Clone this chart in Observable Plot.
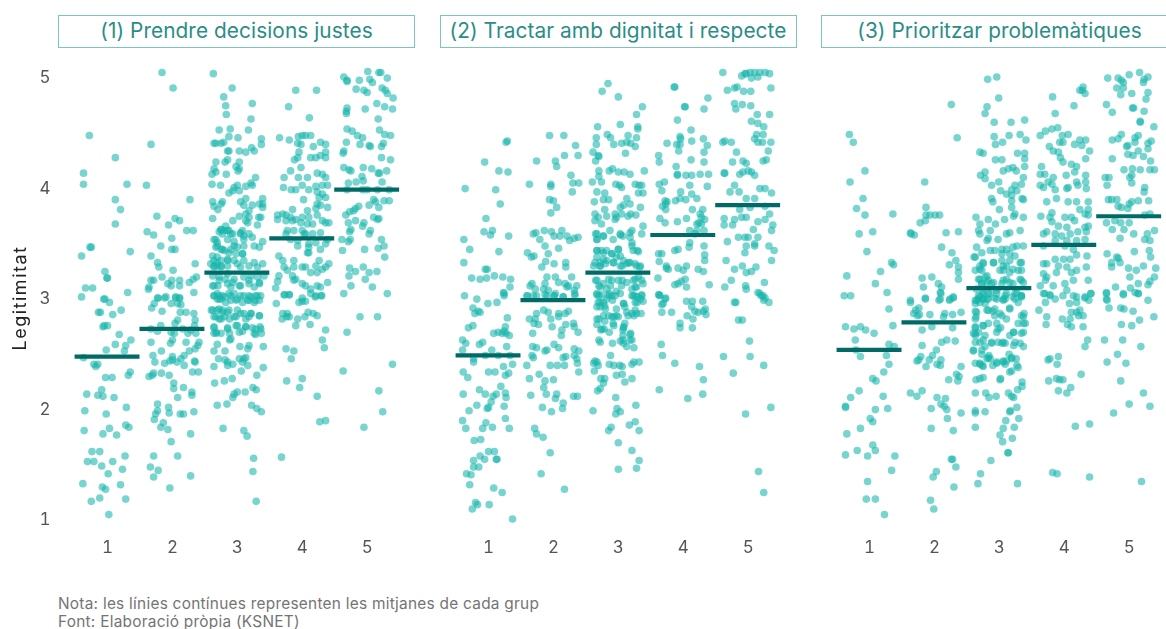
<!DOCTYPE html>
<html lang="ca">
<head>
<meta charset="utf-8">
<script src="https://cdn.jsdelivr.net/npm/d3@7"></script>
<script src="https://cdn.jsdelivr.net/npm/@observablehq/plot@0.6"></script>
<style>
html,body{margin:0;padding:0;background:#fff;overflow:hidden;width:1166px;height:629px;}
body{font-family:Inter,"Noto Sans",sans-serif;position:relative;}
#heads{position:absolute;left:58px;top:15px;display:flex;gap:24.5px;width:1120px;}
#heads div{box-sizing:border-box;flex:none;width:357px;height:33px;border:1.5px solid #7cc5bf;color:#2a8d86;font-size:20.8px;letter-spacing:.08px;line-height:30px;text-align:center;white-space:nowrap;}
#chart{position:absolute;left:0;top:48px;width:1180px;}
#chart svg{max-width:none;filter:blur(.35px);}
#chart [aria-label="y-axis label"]{font-size:18px;letter-spacing:1.5px;fill:#222;}
#note{position:absolute;left:58px;top:595px;color:#747474;font-size:15.4px;letter-spacing:.26px;line-height:18px;white-space:nowrap;}
</style>
</head>
<body>
<div id="heads"></div>
<div id="chart"></div>
<div id="note"></div>
<script>
const panelTitles = ["(1) Prendre decisions justes","(2) Tractar amb dignitat i respecte","(3) Prioritzar problemàtiques"];
const groups = [1,2,3,4,5];
const yTicks = [1,2,3,4,5];
const yLabel = "Legitimitat";
const notes = ["Nota: les línies contínues representen les mitjanes de cada grup","Font: Elaboració pròpia (KSNET)"];
const means1 = [2.47,2.72,3.23,3.54,3.98];
const means2 = [2.48,2.98,3.23,3.57,3.84];
const means3 = [2.53,2.78,3.09,3.48,3.74];

// each list: jitter offset, value, jitter offset, value ...
const p1g1 = [-.28,4.47,.12,4.27,-.37,4.13,-.37,4.03,.30,4.03,.12,3.89,.20,3.80,.12,3.67,-.27,3.46,-.25,3.46,.35,3.42,-.40,3.38,-.04,3.24,-.01,3.18,0,3.18,-.34,3.09,-.23,3.09,.31,3.05,-.40,3.01,-.06,2.99,-.04,2.99,.03,2.96,-.14,2.87,-.11,2.87,.08,2.85,.21,2.89,-.07,2.74,0,2.75,-.05,2.75,.18,2.67,.36,2.62,.28,2.57,.12,2.58,-.02,2.53,.26,2.52,-.37,2.46,-.21,2.40,-.18,2.38,-.15,2.40,.35,2.33,.32,2.30,-.03,2.28,.07,2.28,-.09,2.17,-.32,2.13,-.15,2.12,-.07,2.11,.10,2.10,-.35,1.98,.29,2.01,-.02,1.95,-.36,1.80,.28,1.85,.33,1.83,.03,1.82,-.07,1.77,.14,1.76,-.24,1.61,-.12,1.61,.27,1.57,-.31,1.52,-.21,1.52,.08,1.52,-.09,1.48,.23,1.45,.01,1.41,-.38,1.32,.20,1.31,-.08,1.29,-.03,1.27,.28,1.18,-.12,1.19,-.25,1.16,.02,1.04];
const p1g2 = [-.16,5.04,.01,4.90,-.33,4.39,-.40,4.02,.27,3.89,-.24,3.74,-.06,3.66,.04,3.72,.11,3.70,.22,3.61,.32,3.61,-.39,3.60,-.29,3.57,-.01,3.54,-.18,3.47,-.01,3.44,.04,3.44,-.33,3.38,-.23,3.32,-.21,3.28,.35,3.31,.01,3.25,.37,3.19,.32,3.17,.26,3.14,-.16,3.19,-.33,3.16,-.29,3.16,-.36,3.10,-.37,3.08,-.01,3.16,.11,3.16,-.07,3.13,-.02,3.11,.11,3.11,.33,3.05,-.10,3.01,.05,3.01,.11,3.00,-.23,3.00,-.22,3.0,-.12,3.0,-.28,2.95,-.32,2.91,-.02,2.95,.05,3.0,.11,3.0,.08,2.95,.13,2.94,-.16,2.88,.12,2.87,.21,2.87,.33,2.86,.08,2.80,.04,2.77,.35,2.80,.34,2.75,-.18,2.75,-.23,2.70,-.33,2.72,-.02,2.69,.03,2.68,.16,2.72,.24,2.68,.36,2.68,.28,2.71,-.33,2.60,0,2.62,-.03,2.59,.21,2.60,.41,2.60,.39,2.57,.35,2.54,.26,2.52,-.17,2.52,-.30,2.48,.18,2.48,0,2.47,.13,2.45,-.27,2.42,-.04,2.43,0,2.44,.07,2.42,-.12,2.41,.18,2.39,.34,2.43,.35,2.42,.31,2.33,.40,2.33,-.36,2.29,-.31,2.30,-.29,2.32,-.17,2.32,-.05,2.30,.02,2.23,.02,2.18,.17,2.19,.30,2.15,.30,2.12,.08,2.10,-.23,2.04,-.23,1.98,-.26,1.95,-.28,1.90,-.06,2.01,-.05,1.96,.12,1.95,.17,1.95,.33,1.97,-.14,1.87,-.18,1.83,-.07,1.81,.28,1.77,-.02,1.70,-.29,1.57,.08,1.57,-.34,1.47,-.22,1.44,-.29,1.38,.28,1.39,-.04,1.28];
const p1g3 = [-.37,5.03,-.08,4.90,-.21,4.82,-.18,4.74,.23,4.76,-.17,4.66,.21,4.62,-.28,4.52,-.11,4.53,.17,4.52,-.13,4.46,.01,4.45,.37,4.44,.37,4.39,-.36,4.40,-.33,4.40,-.25,4.40,-.21,4.41,-.15,4.33,-.13,4.33,.03,4.33,.13,4.32,.22,4.36,.26,4.33,-.33,4.23,-.15,4.25,-.19,4.23,.03,4.23,-.36,4.17,-.02,4.19,.01,4.15,.03,4.17,-.33,4.14,-.39,4.12,-.17,4.12,.28,4.09,-.39,4.03,-.26,4.02,0,4.02,-.05,4.0,.13,4.01,.23,4.02,.21,4.04,-.13,3.95,-.07,3.97,.03,3.97,-.38,3.87,-.23,3.87,-.36,3.83,-.30,3.80,-.25,3.85,.05,3.87,.13,3.90,.10,3.84,.18,3.79,.23,3.84,.39,3.90,.39,3.85,.34,3.85,.39,3.82,-.38,3.72,.03,3.74,.13,3.76,.18,3.73,-.07,3.70,.13,3.70,.16,3.68,.33,3.73,.36,3.73,.31,3.66,-.25,3.62,-.20,3.61,-.15,3.61,-.10,3.58,-.28,3.60,.08,3.61,.05,3.58,.18,3.58,-.36,3.53,-.31,3.50,-.15,3.53,-.05,3.51,.10,3.53,.23,3.55,.39,3.51,.26,3.47,.34,3.46,-.33,3.46,-.25,3.44,-.20,3.43,-.10,3.44,0,3.46,.10,3.47,-.02,3.40,.08,3.40,-.31,3.37,-.36,3.34,-.25,3.34,-.15,3.35,-.05,3.34,.10,3.34,.26,3.32,.39,3.31,-.41,3.31,-.31,3.29,-.15,3.29,.05,3.28,.18,3.29,.31,3.28,-.36,3.28,-.25,3.28,-.38,3.2,-.28,3.19,-.15,3.22,-.05,3.17,.10,3.19,.21,3.2,.31,3.19,.41,3.2,-.38,3.11,-.30,3.11,-.15,3.13,-.10,3.10,.03,3.11,.18,3.13,.26,3.10,.34,3.13,-.36,3.02,-.28,3.02,-.23,3.02,-.13,3.04,-.05,3.04,.05,3.02,.18,3.02,.28,3.02,.36,3.02,-.31,2.99,-.25,2.99,-.10,2.98,-.02,2.98,.08,2.96,.18,2.98,.26,2.96,.34,2.98,-.40,2.89,-.31,2.89,-.23,2.89,-.15,2.87,0,2.89,.05,2.86,.21,2.86,.34,2.84,-.36,2.83,-.28,2.81,-.20,2.83,-.12,2.81,-.02,2.83,.13,2.81,.18,2.83,-.36,2.74,-.15,2.73,0,2.75,.13,2.74,.23,2.73,.35,2.74,-.36,2.68,-.25,2.68,-.12,2.68,.08,2.70,.26,2.68,.37,2.68,-.32,2.68,-.12,2.62,-.10,2.63,-.31,2.58,.04,2.56,.18,2.57,.16,2.54,.40,2.56,-.36,2.52,-.19,2.52,-.29,2.45,-.19,2.44,.03,2.45,.13,2.46,.10,2.45,-.15,2.42,-.07,2.40,.08,2.42,-.36,2.38,-.15,2.39,.16,2.39,.40,2.37,.06,2.34,.30,2.30,-.35,2.23,-.20,2.25,-.08,2.27,.24,2.19,.29,2.17,0,2.15,-.05,2.13,.12,2.15,-.07,2.10,-.31,2.03,-.16,2.04,.22,2.03,.30,2.00,.37,1.97,-.22,1.82,.10,1.80,.15,1.75,.25,1.55,.24,1.43,.29,1.16];
const p1g3more = [-.25,3.62,-.13,3.61,-.18,3.65,-.23,3.58,-.07,3.58,.05,3.59,.10,3.56,-.33,3.53,-.31,3.47,-.23,3.44,-.05,3.47,-.13,3.41,.08,3.40,-.38,3.38,-.31,3.32,-.15,3.34,-.36,3.29,-.25,3.29,0,3.31,-.28,3.16,-.18,3.17,-.07,3.14,.18,3.16,.34,3.14,-.36,3.11,.05,3.11,-.36,3.02,-.28,2.99,-.20,3.01,-.31,3.04,-.10,3.02,0,2.99,.10,3.02,.21,3.01,.31,3.02,.28,2.98,.16,2.98,-.18,2.96,-.38,2.89,-.28,2.90,-.33,2.83,-.23,2.87,-.13,2.89,-.05,2.83,.10,2.86,.21,2.86,.34,2.84,-.25,2.81,-.36,2.73,-.15,2.72,-.02,2.75,.13,2.74,.28,2.72,.36,2.72,-.33,2.69,.03,2.69,.28,2.67];
const p1g4 = [-.32,1.56,-.10,4.88,.22,4.88,-.21,4.73,.11,4.63,-.35,4.45,-.20,4.43,-.06,4.46,0,4.47,.05,4.47,.13,4.47,-.07,4.40,-.02,4.39,.28,4.41,.36,4.39,.17,4.37,-.05,4.32,.36,4.32,-.07,4.27,-.12,4.25,.13,4.27,.21,4.27,.36,4.27,.28,4.29,-.02,4.18,-.18,4.15,.23,4.13,.31,4.12,.36,4.09,-.06,4.09,-.28,4.09,.08,4.09,-.29,4.0,-.17,3.98,-.10,3.98,0,4.02,.10,3.98,.21,4.01,.31,4.02,.39,4.02,.23,3.96,.36,3.91,.26,3.91,.02,3.89,.31,3.94,.23,3.85,-.15,3.80,.08,3.79,.21,3.81,.28,3.84,.39,3.82,-.38,3.75,-.30,3.76,-.25,3.75,-.18,3.73,-.10,3.71,0,3.73,.10,3.73,.23,3.75,.31,3.70,.41,3.68,-.38,3.71,-.25,3.70,-.15,3.70,-.02,3.68,.08,3.67,.16,3.67,.36,3.68,-.23,3.61,-.25,3.58,-.13,3.61,0,3.61,.03,3.58,.16,3.58,.28,3.59,.05,3.58,-.18,3.53,-.07,3.52,.10,3.49,.21,3.50,.36,3.49,.39,3.53,-.07,3.47,.10,3.46,.28,3.44,.08,3.41,-.36,3.38,-.30,3.34,-.13,3.34,.26,3.34,.41,3.31,.10,3.41,-.28,3.28,-.23,3.25,-.13,3.28,0,3.28,.05,3.28,.21,3.29,.31,3.26,.36,3.28,-.36,3.2,-.15,3.2,-.10,3.17,.13,3.23,.23,3.23,.39,3.14,-.38,3.15,-.41,3.09,-.13,3.16,0,3.13,.05,3.11,.23,3.11,.28,3.10,-.27,3.03,-.20,3.03,.13,3.08,.21,3.02,.29,3.02,0,3.0,-.40,2.95,-.28,3.03,-.20,3.03,0,2.97,-.05,2.96,.05,2.97,.13,3.04,.20,3.01,.30,3.02,-.30,2.86,-.23,2.86,-.20,2.83,-.31,2.81,-.24,2.83,.09,2.87,.17,2.86,.23,2.84,.04,2.83,-.07,2.81,-.10,2.75,.12,2.76,.36,2.71,.31,2.62,.34,2.55,-.25,2.54,-.13,2.52,-.17,2.45,-.24,2.25,0,2.27,-.04,2.19,.23,2.11,.27,1.88,.36,1.89];
const p1g5 = [.01,5.05,.18,5.04,.21,5.04,-.36,5.0,-.31,4.97,-.12,4.97,.04,4.98,.08,4.95,.31,4.99,-.17,4.89,-.31,4.96,-.05,4.88,0,4.86,.23,4.90,.28,4.88,.31,4.85,.40,4.81,-.31,4.72,-.32,4.69,-.32,4.67,-.03,4.71,.15,4.76,.27,4.73,.39,4.71,.17,4.62,-.31,4.53,-.23,4.51,.19,4.52,-.15,4.47,-.07,4.45,-.11,4.39,.03,4.38,.05,4.37,.27,4.48,.36,4.47,-.32,4.41,.25,4.40,.22,4.37,-.36,4.33,-.37,4.31,.22,4.27,.36,4.25,-.36,4.18,-.28,4.16,-.25,4.15,-.06,4.18,.07,4.17,.30,4.15,.17,4.13,.19,4.13,-.08,4.10,-.29,4.04,-.17,4.05,-.06,4.06,.23,4.05,-.31,3.98,-.07,3.98,0,3.98,.16,3.98,.34,3.98,.10,3.89,.13,3.87,.34,3.88,.26,3.88,.03,3.84,.18,3.82,-.13,3.83,-.18,3.81,-.21,3.79,-.27,3.78,-.33,3.75,-.29,3.68,-.18,3.70,-.05,3.68,.10,3.73,.16,3.71,.18,3.72,-.25,3.62,-.27,3.60,-.07,3.65,.05,3.61,.03,3.58,-.39,3.53,-.26,3.53,-.29,3.51,.22,3.53,.26,3.47,.17,3.45,-.04,3.44,-.38,3.43,.27,3.37,-.27,3.27,-.18,3.24,-.06,3.28,.03,3.23,.15,3.24,-.28,3.20,-.03,3.17,-.25,3.11,.08,3.10,-.36,3.04,.31,3.04,-.11,2.83,.16,2.83,-.31,2.69,.39,2.40,-.37,2.34,.18,2.16,.24,1.97,-.05,1.83];

const p2g1 = [-.36,3.99,-.06,4.23,.29,4.42,.27,4.41,.16,4.15,.30,4.14,.11,3.98,.18,3.85,-.04,3.72,-.07,3.60,.03,3.57,.06,3.61,.31,3.56,-.38,3.53,-.29,3.44,.16,3.42,-.38,3.32,-.05,3.26,-.02,3.26,-.26,3.18,-.13,3.17,-.03,3.18,.09,3.20,.22,3.19,.34,3.17,.33,3.10,.24,3.04,-.37,3.02,-.18,2.99,-.01,2.95,.13,2.96,.24,3.02,.23,3.05,-.24,2.91,-.21,2.86,-.16,2.88,-.13,2.87,.29,2.82,-.31,2.73,-.24,2.75,.08,2.68,.15,2.69,.26,2.74,.24,2.70,.21,2.68,.32,2.66,.27,2.68,-.40,2.62,-.35,2.59,-.09,2.60,-.14,2.58,.28,2.56,-.40,2.53,.05,2.53,.15,2.48,-.05,2.48,.33,2.48,-.23,2.42,.37,2.40,.23,2.38,-.23,2.45,-.39,2.33,0,2.33,.10,2.33,.31,2.32,.26,2.30,-.32,2.28,.19,2.20,-.14,2.17,-.39,2.13,-.05,2.13,.26,2.14,.12,2.13,.07,2.11,.27,2.10,.04,2.06,-.18,2.03,.24,2.02,-.02,2.00,0,2.01,-.30,1.98,-.40,1.89,.26,1.91,-.04,1.87,-.35,1.82,-.09,1.82,.06,1.83,.32,1.82,-.22,1.71,-.12,1.72,0,1.61,.09,1.61,-.13,1.57,-.23,1.53,-.06,1.54,.12,1.54,.13,1.54,-.23,1.47,-.15,1.47,-.34,1.41,-.27,1.40,-.29,1.31,.08,1.28,.21,1.24,-.20,1.15,-.17,1.13,.01,1.13,-.25,1.09,.37,1.00];
const p2g2 = [-.06,4.47,.16,4.47,.34,4.38,.17,4.29,.38,4.29,-.26,4.24,.03,4.24,.05,4.19,.27,4.11,-.37,4.03,-.04,4.03,-.04,4.01,.30,4.04,.39,4.04,.29,3.96,-.06,3.89,0,3.88,.05,3.82,-.04,3.77,-.27,3.59,-.31,3.58,-.14,3.61,-.03,3.60,.13,3.61,-.21,3.53,-.13,3.47,.01,3.56,.10,3.56,.25,3.52,.21,3.56,.32,3.54,.38,3.55,.08,3.45,-.40,3.41,-.34,3.37,-.30,3.38,-.08,3.40,-.12,3.33,-.18,3.28,.01,3.31,.19,3.32,.19,3.28,-.10,3.19,.03,3.19,.28,3.19,-.13,3.13,-.33,3.13,-.36,3.11,.18,3.13,.23,3.11,.36,3.11,.08,3.14,-.15,3.08,-.28,3.08,.03,3.04,.21,3.10,.32,3.07,-.08,3.07,-.40,3.02,-.26,3.02,-.10,3.02,.01,3.02,.15,3.01,.33,3.02,-.41,3.02,-.31,3.02,-.13,3.03,.01,3.02,.15,3.01,.33,3.04,-.15,2.89,-.08,2.87,-.26,2.86,.08,2.86,.23,2.88,.18,2.86,-.37,2.81,-.28,2.81,-.04,2.81,.08,2.83,-.30,2.77,-.23,2.76,-.02,2.74,.19,2.76,.31,2.77,.32,2.74,.13,2.71,.12,2.66,.38,2.69,-.32,2.68,.01,2.58,.08,2.55,-.32,2.56,-.26,2.55,-.13,2.52,-.10,2.53,.32,2.54,.39,2.52,-.33,2.48,-.31,2.46,.15,2.46,.19,2.47,.32,2.48,.36,2.45,.37,2.41,-.41,2.39,-.05,2.39,.06,2.39,.17,2.39,.39,2.33,-.22,2.31,-.37,2.27,-.13,2.25,0,2.26,-.15,2.19,-.35,2.12,-.11,2.13,.05,2.13,.03,2.09,.31,2.11,.37,2.11,.15,2.05,-.17,2.01,.14,2.00,-.03,1.97,-.29,1.82,-.26,1.77,-.16,1.74,-.05,1.60,-.19,1.41,.17,1.27];
const p2g3 = [-.16,4.94,-.25,4.87,0,4.82,.37,4.73,.28,4.66,-.32,4.55,.03,4.57,.30,4.55,.30,4.53,-.17,4.48,-.12,4.45,.15,4.47,.28,4.45,-.34,4.45,-.34,4.39,-.07,4.39,.05,4.40,.13,4.41,.19,4.40,.26,4.37,-.39,4.32,-.31,4.29,-.30,4.28,.11,4.31,-.35,4.24,-.30,4.15,-.30,4.10,-.26,4.05,-.14,4.15,-.09,4.17,0,4.14,.09,4.14,.18,4.12,.40,4.15,-.40,4.05,-.04,4.03,.02,4.02,.05,4.0,.26,4.03,.32,4.02,.36,4.02,-.33,3.96,-.21,3.95,.31,3.95,.38,3.95,.13,3.90,-.37,3.87,-.23,3.89,-.15,3.89,.03,3.82,.08,3.84,.18,3.85,.34,3.82,-.21,3.80,-.36,3.76,-.31,3.73,-.18,3.74,-.05,3.76,.05,3.76,.15,3.74,.27,3.75,-.36,3.70,-.26,3.67,-.05,3.71,-.03,3.73,.38,3.65,.19,3.76,-.33,3.58,-.23,3.56,-.13,3.61,.21,3.61,.36,3.58,-.33,3.53,-.08,3.53,.03,3.57,.07,3.56,.18,3.55,-.33,3.43,-.26,3.43,-.18,3.43,0,3.44,.21,3.47,.31,3.42,.23,3.43,-.33,3.37,-.23,3.35,-.10,3.40,-.03,3.37,.08,3.34,.18,3.32,-.36,3.32,-.18,3.34,-.08,3.32,-.28,3.29,.03,3.29,.13,3.31,.28,3.29,.33,3.28,-.28,3.29,-.33,3.16,-.23,3.13,-.10,3.16,0,3.16,.05,3.11,.13,3.14,.23,3.16,.31,3.19,.38,3.13,-.28,3.10,-.18,3.08,-.03,3.06,.21,3.08,.28,3.10,-.33,3.04,-.10,3.02,.23,3.02,.36,3.02,-.18,2.99,-.33,3.03,-.26,3.03,-.14,3.04,.03,3.04,.21,3.02,.29,3.01,.36,3.03,-.31,2.96,-.23,2.96,-.09,2.98,.08,2.95,.26,2.96,.38,2.97,-.28,2.92,-.21,2.93,-.03,2.90,.10,2.92,.21,2.86,.28,2.86,.35,2.86,-.23,2.84,-.10,2.83,-.03,2.84,.15,2.84,-.33,2.81,-.33,2.76,-.21,2.79,-.08,2.77,.10,2.77,.08,2.74,-.22,2.72,-.27,2.71,-.14,2.69,.07,2.71,.07,2.66,.19,2.68,-.30,2.62,-.28,2.60,-.09,2.59,.03,2.61,.08,2.59,.18,2.62,.21,2.62,.13,2.56,.24,2.55,.07,2.62,-.12,2.48,-.36,2.43,-.33,2.42,-.38,2.41,-.31,2.39,-.37,2.34,-.14,2.40,-.07,2.39,.02,2.39,.06,2.38,.21,2.40,.24,2.42,.32,2.42,-.03,2.30,.06,2.31,-.27,2.27,-.21,2.27,.21,2.27,.10,2.24,-.23,2.23,-.28,2.18,-.32,2.16,-.04,2.10,.27,2.03,-.39,1.98,-.02,2.0,-.04,1.95,.03,1.97,.26,1.88,.17,1.85,.32,1.80,-.11,1.83,-.15,1.80,0,1.69,.21,1.62,.32,1.53,.28,1.46,0,1.45];
const p2g3more = [-.35,3.58,-.23,3.56,-.33,3.53,.03,3.58,.18,3.59,.21,3.50,-.33,3.43,-.23,3.41,-.10,3.40,0,3.44,.03,3.38,.29,3.43,-.38,3.29,-.28,3.32,-.20,3.31,-.07,3.32,.06,3.29,.16,3.32,.26,3.31,.34,3.29,-.35,3.16,-.15,3.17,.06,3.16,.26,3.17,.36,3.16,-.30,3.11,-.12,3.11,.26,3.10,-.30,3.02,-.15,3.02,-.05,3.02,.26,3.02,.34,2.99,-.28,2.96,.08,2.95,.29,2.96,-.33,2.92,-.20,2.90,.26,2.89,.13,2.87,-.30,2.81,-.07,2.83,0,2.83,-.15,2.84,.24,2.84,-.25,2.72,.08,2.73,-.07,2.75,.18,2.67];
const p2g4 = [-.14,4.91,-.13,4.91,.38,4.81,.02,4.73,.03,4.73,.32,4.71,-.09,4.61,.12,4.52,-.05,4.46,-.04,4.44,.31,4.44,-.25,4.40,-.10,4.39,-.05,4.39,.13,4.42,.37,4.38,.32,4.32,-.07,4.33,-.38,4.29,-.37,4.23,.12,4.25,.32,4.23,-.11,4.19,-.09,4.12,-.09,4.11,.04,4.11,.13,4.11,.26,4.12,.39,4.12,-.29,4.05,-.37,4.03,-.33,3.97,.10,4.02,.37,4.01,-.04,3.96,.13,3.94,-.12,3.88,-.05,3.90,.04,3.89,.21,3.90,-.28,3.88,-.25,3.87,-.27,3.85,-.32,3.83,-.27,3.80,.14,3.80,.05,3.72,-.09,3.69,.30,3.80,.26,3.76,-.36,3.72,-.28,3.68,.28,3.73,.33,3.71,.24,3.68,.28,3.67,.21,3.67,.10,3.61,.21,3.61,.32,3.61,.18,3.58,.10,3.50,.09,3.46,-.08,3.44,-.13,3.43,.32,3.47,-.38,3.40,-.33,3.40,.33,3.39,.33,3.34,-.37,3.33,-.26,3.29,-.23,3.26,-.26,3.27,-.08,3.27,.05,3.29,.23,3.26,.31,3.24,0,3.25,-.39,3.18,.03,3.17,-.03,3.15,-.08,3.13,-.13,3.12,.05,3.10,.40,3.12,-.37,3.03,-.27,3.0,-.38,3.03,-.36,3.02,-.28,2.99,-.31,2.95,-.33,2.94,-.33,2.87,-.18,2.87,.05,2.97,.14,2.97,.30,2.97,.13,2.92,.18,2.88,.23,2.87,.31,2.88,.34,2.90,.35,2.85,.06,2.84,.15,2.81,-.05,2.77,-.05,2.73,.14,2.73,-.34,2.58,-.32,2.48,-.13,2.41,.25,2.38,.31,2.26,-.37,2.17,.30,2.13,.07,2.09];
const p2g5 = [-.39,5.04,-.05,5.03,.03,5.04,.10,5.04,.18,5.04,.26,5.04,.33,5.03,-.10,5.01,-.03,5.03,.05,4.99,.15,5.0,-.32,4.88,-.21,4.90,-.17,4.91,-.07,4.87,.04,4.87,.35,4.90,-.21,4.76,-.09,4.75,-.19,4.71,.04,4.74,.14,4.66,.33,4.66,.05,4.60,.15,4.58,.24,4.55,.13,4.48,.23,4.48,.10,4.44,.15,4.41,.22,4.41,.35,4.41,-.39,4.41,-.36,4.42,-.26,4.41,.31,4.33,-.18,4.32,-.24,4.23,-.08,4.24,-.03,4.22,.23,4.24,.28,4.25,-.37,4.13,-.36,4.13,-.13,4.12,-.08,4.14,0,4.15,.05,4.14,.10,4.11,-.21,4.02,-.28,3.96,-.14,3.96,.18,3.99,.26,3.99,-.03,3.90,.10,3.90,.36,3.95,-.13,3.80,.03,3.82,.26,3.83,.33,3.76,-.37,3.72,-.21,3.71,-.10,3.73,-.03,3.73,-.37,3.66,-.24,3.66,.15,3.69,.26,3.71,.38,3.66,.36,3.61,.08,3.62,-.32,3.51,-.15,3.55,-.05,3.55,0,3.55,.15,3.55,.10,3.49,-.03,3.47,-.05,3.41,.10,3.47,.32,3.47,.40,3.43,-.34,3.34,.36,3.34,-.21,3.26,-.09,3.29,-.03,3.23,.05,3.24,.12,3.28,-.36,3.10,-.26,3.16,-.04,3.11,-.03,3.08,.25,3.14,.15,3.05,.20,3.02,.26,3.0,-.21,2.96,-.19,2.96,-.15,2.80,-.09,2.80,.18,3.04,.23,3.02,.24,2.98,.32,2.96,.02,2.61,-.38,2.47,.03,2.47,.24,2.39,-.23,2.32,-.04,1.95,.35,2.01,.16,1.43,.24,1.24];

const p3g1 = [-.31,4.48,-.25,4.41,-.07,4.15,-.30,4.05,-.10,3.90,-.20,3.81,-.07,3.75,.36,3.76,-.16,3.58,.05,3.60,-.04,3.42,.34,3.32,.37,3.30,.17,3.24,-.35,3.20,.09,3.13,.27,3.05,-.39,3.02,-.29,3.02,.30,2.90,.36,2.75,-.37,2.74,-.24,2.72,-.14,2.74,-.06,2.71,.07,2.68,-.22,2.62,.30,2.58,.38,2.56,-.21,2.53,-.14,2.47,.26,2.48,.30,2.40,.22,2.33,.05,2.27,.10,2.25,-.16,2.16,-.29,2.10,.21,2.11,-.37,2.02,-.37,2.01,.09,1.99,.28,2.0,.01,1.91,.05,1.88,-.14,1.82,-.35,1.77,.05,1.67,.09,1.62,-.19,1.62,-.37,1.58,-.03,1.57,.39,1.57,.34,1.44,-.03,1.34,-.05,1.18,.09,1.18,.23,1.04];
const p3g2 = [.26,4.75,.35,4.45,-.15,4.05,-.13,3.82,-.13,3.75,-.14,3.70,-.22,3.68,-.07,3.75,.01,3.75,.08,3.75,-.37,3.59,-.36,3.58,-.31,3.57,.18,3.59,.37,3.60,.11,3.46,.27,3.41,.33,3.34,.23,3.30,.37,3.28,.37,3.23,-.19,3.18,-.04,3.19,.37,3.17,-.17,3.10,.06,3.13,.11,3.10,.09,3.05,-.37,2.98,-.14,3.0,.09,2.99,.29,3.01,.24,2.99,-.37,2.96,-.14,2.99,.07,2.98,.10,3.04,.23,2.98,.29,3.0,-.24,2.91,-.29,2.89,-.32,2.86,-.26,2.84,-.23,2.85,-.07,2.85,.16,2.86,.14,2.83,.28,2.85,.41,2.87,-.04,2.74,.28,2.73,-.19,2.71,.11,2.60,.19,2.62,.32,2.61,-.19,2.57,.03,2.53,-.21,2.47,-.03,2.48,-.08,2.44,.10,2.44,-.27,2.43,-.24,2.44,-.13,2.38,.04,2.40,.09,2.39,.41,2.38,.34,2.31,.38,2.29,.22,2.26,.36,2.25,-.37,2.14,-.27,2.11,-.19,2.16,.04,2.10,.17,2.09,.10,2.04,.15,2.02,.19,1.99,-.05,2.0,.20,1.91,.41,1.96,-.05,1.82,.29,1.80,.26,1.54,.28,1.54,.33,1.47,.03,1.43,-.02,1.38,.30,1.29,-.06,1.17,-.01,1.09];
const p3g3 = [-.18,4.98,-.04,5.0,-.01,4.81,-.19,4.73,-.22,4.67,-.08,4.59,.18,4.59,.39,4.61,-.08,4.46,.15,4.47,.32,4.48,.41,4.43,-.06,4.39,.05,4.41,-.30,4.32,-.25,4.31,.28,4.31,.39,4.31,.39,4.26,-.06,4.25,.04,4.25,.39,4.19,.06,4.15,.14,4.17,.21,4.18,.26,4.15,-.22,4.14,-.29,4.11,-.22,4.08,-.12,4.02,-.01,4.05,.37,4.09,.34,4.03,.24,4.02,.19,3.98,.11,3.94,.02,3.97,.19,3.93,.27,3.97,-.12,3.90,-.10,3.87,.35,3.90,.37,3.89,.19,3.88,.19,3.82,0,3.80,.24,3.76,.22,3.74,-.36,3.73,-.30,3.67,-.17,3.71,-.06,3.67,.08,3.71,.37,3.73,-.32,3.61,-.30,3.58,-.14,3.61,.16,3.59,.32,3.61,-.17,3.54,-.19,3.52,-.02,3.53,.11,3.58,-.35,3.46,-.14,3.43,-.07,3.43,.04,3.44,.11,3.44,.21,3.46,.37,3.47,.27,3.47,-.27,3.41,.04,3.40,.16,3.40,.24,3.38,-.39,3.37,-.25,3.32,-.30,3.29,-.09,3.32,.04,3.34,.11,3.29,.34,3.32,-.27,3.25,-.19,3.20,.06,3.25,.21,3.26,.34,3.25,-.37,3.25,-.30,3.17,-.17,3.16,.11,3.17,.32,3.17,-.27,3.13,-.12,3.13,.04,3.13,.21,3.13,.37,3.14,-.35,3.08,-.25,3.05,-.14,3.04,-.04,3.07,.11,3.04,.27,3.05,-.30,3.01,-.19,2.99,-.07,3.0,.06,2.99,.21,3.01,.34,3.02,-.37,2.98,-.32,2.99,-.25,2.99,-.17,2.99,-.04,2.99,.09,2.99,.24,2.99,.34,3.01,-.37,2.95,-.30,2.96,-.22,2.95,.16,2.91,-.19,2.89,-.10,2.88,-.07,2.84,.01,2.86,.11,2.81,.34,2.84,.38,2.86,-.37,2.88,-.36,2.83,-.37,2.81,.37,2.83,-.25,2.75,-.17,2.77,-.04,2.77,.02,2.73,.29,2.77,.40,2.77,-.37,2.73,-.40,2.68,-.37,2.66,-.32,2.69,-.04,2.69,.22,2.69,.16,2.66,.37,2.69,-.37,2.60,-.25,2.62,-.22,2.56,-.12,2.59,-.02,2.60,.04,2.59,.09,2.59,.24,2.60,.32,2.59,.37,2.56,-.40,2.52,-.27,2.53,-.16,2.48,-.19,2.45,-.14,2.45,.15,2.49,.19,2.45,.26,2.45,-.37,2.41,-.30,2.41,-.26,2.39,-.25,2.38,-.10,2.39,-.04,2.41,.06,2.42,.11,2.43,.09,2.40,.29,2.37,.16,2.33,.19,2.34,-.36,2.26,-.30,2.27,-.25,2.28,.02,2.27,.01,2.26,.35,2.24,.35,2.20,.28,2.17,-.37,2.14,-.21,2.14,-.16,2.10,-.05,2.11,.14,2.14,.19,2.11,.22,2.10,.27,2.01,-.37,1.98,-.37,1.96,-.22,1.97,.16,1.97,.17,1.98,.30,1.91,.10,1.89,-.37,1.83,.06,1.82,.23,1.83,.01,1.76,.20,1.73,.05,1.70,.13,1.60,.14,1.60,-.13,1.53,-.29,1.41,-.33,1.32,.28,1.32];
const p3g3more = [-.37,3.37,-.25,3.31,-.30,3.26,-.09,3.32,.06,3.29,.16,3.34,.32,3.32,.01,3.25,.16,3.23,.29,3.25,-.32,3.17,-.22,3.19,-.19,3.14,-.09,3.14,.06,3.16,.16,3.14,.34,3.16,-.27,3.13,-.32,3.02,-.25,3.04,-.35,2.98,-.17,3.04,-.04,3.04,.09,3.02,.24,3.04,.34,3.02,-.25,2.99,.06,2.98,.29,2.96,.16,2.90,-.17,2.89,-.35,2.87,-.07,2.90,.04,2.84,-.37,2.74,-.25,2.75,-.02,2.72,.22,2.69,.37,2.77,.34,2.68,-.37,2.68,-.22,2.66,-.30,2.60,.06,2.60,-.12,2.60,.22,2.57,-.40,2.53,-.27,2.49,-.17,2.46,-.04,2.42,.06,2.43,.19,2.46,-.30,2.40,.27,2.39];
const p3g4 = [.29,4.91,.24,4.88,.32,4.85,.28,4.88,-.18,4.82,.15,4.74,-.14,4.67,-.37,4.47,-.29,4.51,-.19,4.53,-.10,4.54,-.03,4.47,.06,4.48,-.02,4.41,-.07,4.41,.16,4.39,.24,4.43,.33,4.43,.27,4.38,-.23,4.37,-.17,4.33,-.09,4.32,.39,4.33,.33,4.26,-.06,4.27,-.02,4.23,-.35,4.19,.11,4.21,.19,4.19,.16,4.14,-.37,4.12,-.30,4.12,.03,4.11,.33,4.11,-.17,4.09,-.37,4.02,-.25,4.05,-.19,4.03,-.32,4.0,-.14,3.98,.04,3.99,.06,4.0,.19,4.05,.21,4.02,.33,4.05,.34,3.99,-.27,3.87,-.12,3.90,.06,3.87,.19,3.87,.37,3.87,-.19,3.77,.24,3.80,.37,3.80,.32,3.76,.37,3.75,-.36,3.74,-.22,3.73,.01,3.73,.11,3.73,.16,3.70,-.19,3.69,-.09,3.65,.04,3.64,.32,3.64,.37,3.65,-.27,3.60,-.32,3.58,-.14,3.58,-.04,3.56,.09,3.58,.21,3.60,.34,3.60,-.14,3.52,.04,3.52,.19,3.52,.32,3.53,-.32,3.47,.01,3.47,.14,3.44,.35,3.38,-.14,3.35,-.01,3.35,.09,3.35,.19,3.39,-.32,3.31,-.27,3.31,-.09,3.29,.04,3.28,-.32,3.22,-.27,3.19,-.12,3.23,.11,3.23,.19,3.25,.34,3.28,-.37,3.11,-.29,3.16,-.17,3.11,.01,3.13,.14,3.16,.37,3.16,-.32,3.04,-.22,3.02,.04,3.07,.19,3.01,.32,3.01,.41,3.04,-.30,3.04,-.22,3.03,-.14,2.99,-.02,3.02,.14,3.02,.32,3.0,.41,3.04,-.29,2.96,.08,2.95,.19,2.96,.38,2.98,-.39,2.89,-.27,2.83,-.28,2.76,.11,2.87,.19,2.87,.24,2.89,.29,2.84,.22,2.84,-.03,2.81,.09,2.81,.05,2.76,.11,2.74,.29,2.74,.36,2.62,.32,2.56,-.25,2.44,-.22,2.45,-.09,2.47,-.11,2.40,.26,2.31,-.24,2.25,-.12,2.27,-.07,2.26,-.02,2.26,.10,2.19,-.09,2.16,.04,2.14,.17,1.84,.39,1.86,-.18,1.42,-.11,1.41,.39,1.38];
const p3g5 = [.16,5.04,-.33,4.99,-.17,4.99,-.12,4.97,-.09,4.95,0,5.02,.29,5.0,.23,4.98,.22,4.95,-.19,4.90,-.09,4.90,-.13,4.84,.04,4.85,.29,4.86,.26,4.80,-.35,4.75,-.26,4.68,.05,4.72,.07,4.72,.23,4.69,.17,4.60,.17,4.59,.38,4.55,-.12,4.48,-.26,4.43,-.17,4.44,.09,4.45,.14,4.47,.09,4.41,-.02,4.38,-.04,4.37,.34,4.42,.29,4.40,.14,4.33,.29,4.35,-.02,4.30,.06,4.29,.22,4.28,-.26,4.26,.33,4.24,-.08,4.16,.05,4.17,.17,4.16,.32,4.16,.39,4.16,.04,4.11,.01,4.09,-.37,4.09,-.31,4.09,.04,4.04,-.34,4.02,.24,4.0,.23,3.96,-.32,3.89,-.27,3.89,-.19,3.89,.14,3.88,.04,3.87,.30,3.88,-.17,3.83,-.12,3.82,0,3.85,-.02,3.81,-.35,3.68,-.13,3.68,0,3.68,-.22,3.70,.24,3.75,.32,3.76,-.26,3.62,-.08,3.62,.07,3.58,.28,3.58,.39,3.61,.24,3.53,.32,3.52,-.14,3.54,.08,3.42,.31,3.43,.33,3.37,-.34,3.40,-.19,3.37,-.17,3.36,-.14,3.32,-.27,3.32,-.27,3.28,-.01,3.27,.11,3.25,.22,3.29,.41,3.27,.01,3.19,.39,3.19,.32,3.15,.14,3.13,.29,3.12,-.21,3.10,.02,3.09,.09,3.05,.14,3.04,-.09,3.04,-.35,3.05,-.35,2.99,-.35,3.04,-.34,2.98,-.09,3.03,.14,3.04,.29,2.98,-.31,2.91,-.13,2.91,-.08,2.90,.06,2.88,.38,2.83,.16,2.80,-.12,2.76,.04,2.75,-.38,2.62,-.10,2.62,.18,2.56,-.18,2.49,-.34,2.42,-.05,2.41,-.13,2.25,.22,2.14,0,2.04,.32,2.02,-.24,1.96,.19,1.34];

const pointLists = [[p1g1,p1g2,p1g3.concat(p1g3more),p1g4,p1g5],[p2g1,p2g2,p2g3.concat(p2g3more),p2g4,p2g5],[p3g1,p3g2,p3g3.concat(p3g3more),p3g4,p3g5]];
const meanLists = [means1,means2,means3];

const dots = [], means = [];
panelTitles.forEach((t, p) => {
  groups.forEach((g, i) => {
    const list = pointLists[p][i];
    for (let k = 0; k < list.length; k += 2) dots.push({panel: t, x: g + list[k], y: list[k + 1]});
    means.push({panel: t, g, y: meanLists[p][i]});
  });
});

const chart = Plot.plot({
  width: 1180, height: 518,
  marginLeft: 58, marginRight: 2, marginTop: 16, marginBottom: 35,
  style: {fontFamily: "Inter, 'Noto Sans', sans-serif", background: "transparent"},
  fx: {domain: panelTitles, axis: null, paddingInner: 0.0642, paddingOuter: 0},
  x: {domain: [0.26, 5.76], axis: null, label: null},
  y: {domain: [0.887, 5.113], axis: null},
  marks: [
    Plot.axisX({ticks: groups, tickSize: 0, tickPadding: 9, fontSize: 17, label: null, color: "#555", tickFormat: d3.format("d")}),
    Plot.axisY({ticks: yTicks, tickSize: 0, tickPadding: 9, dy: 1, fontSize: 17, color: "#555", label: yLabel, labelAnchor: "center", labelArrow: "none", labelOffset: 46, tickFormat: d3.format("d")}),
    Plot.dot(dots, {fx: "panel", x: "x", y: "y", r: 3.8, fill: "#14b5aa", fillOpacity: 0.58, stroke: "none"}),
    Plot.ruleY(means, {fx: "panel", y: "y", x1: d => d.g - 0.5, x2: d => d.g + 0.5, stroke: "#006b66", strokeWidth: 4.2})
  ]
});
document.getElementById("chart").appendChild(chart);
const heads = document.getElementById("heads");
panelTitles.forEach(t => { const d = document.createElement("div"); d.textContent = t; heads.appendChild(d); });
const note = document.getElementById("note");
notes.forEach(t => { const d = document.createElement("div"); d.textContent = t; note.appendChild(d); });
</script>
</body>
</html>
